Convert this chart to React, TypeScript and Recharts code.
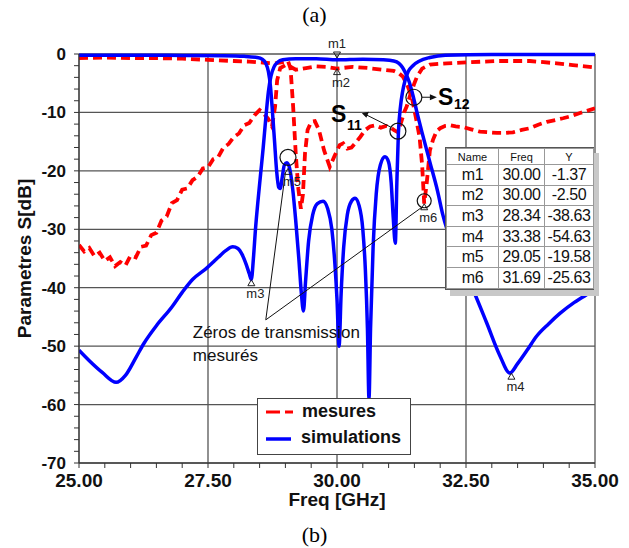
import React from 'react';
import { LineChart, Line, XAxis, YAxis, CartesianGrid, ReferenceDot, ReferenceLine, Legend } from 'recharts';

type Pt = { f: number; db: number };
const pts = (rows: number[][]): Pt[] => rows.map(([f, db]) => ({ f, db }));

// simulated S11 (blue, near 0 out of band)
const simS11 = pts([
  [25, -0.2], [26, -0.2], [27, -0.25], [27.8, -0.3], [28.2, -0.4], [28.45, -0.6], [28.55, -0.9],
  [28.62, -1.6], [28.67, -3], [28.71, -5.5], [28.75, -10], [28.79, -15], [28.83, -20], [28.87, -22.8],
  [28.9, -23], [28.94, -21], [28.98, -19], [29.03, -18.6], [29.08, -19.5], [29.14, -23], [29.2, -28.5],
  [29.26, -35], [29.31, -41], [29.35, -44], [29.39, -39], [29.45, -32], [29.53, -27.5], [29.62, -25.6],
  [29.73, -25.2], [29.82, -26.5], [29.9, -30], [29.96, -36], [30.0, -42], [30.04, -50], [30.08, -41],
  [30.13, -33], [30.2, -27.5], [30.28, -25.2], [30.35, -24.7], [30.43, -26], [30.5, -30], [30.55, -37],
  [30.59, -47], [30.62, -59], [30.65, -47], [30.7, -33], [30.76, -24], [30.84, -19], [30.93, -17.6],
  [31.0, -18.5], [31.05, -22], [31.09, -28], [31.13, -32.4], [31.16, -22], [31.19, -13.5], [31.23, -9],
  [31.27, -6.5], [31.32, -4.5], [31.38, -3], [31.47, -2], [31.6, -1.2], [31.8, -0.6], [32.1, -0.2],
  [33, -0.1], [34, -0.1], [35, -0.1],
]);

// simulated S21 (blue, passband)
const simS21 = pts([
  [25, -50.7], [25.2, -52.5], [25.45, -54.5], [25.72, -56.2], [25.9, -55], [26.1, -52], [26.26, -49.5],
  [26.5, -46.5], [26.8, -43.3], [27.0, -40.8], [27.2, -38.6], [27.48, -36.6], [27.7, -34.8], [27.85, -33.6],
  [27.98, -33], [28.08, -33.3], [28.16, -34.3], [28.24, -36], [28.3, -37.6], [28.34, -38.6], [28.38, -35],
  [28.42, -30], [28.47, -25], [28.52, -20.5], [28.57, -16], [28.62, -11], [28.67, -6.5], [28.72, -3.8],
  [28.78, -2.2], [28.85, -1.4], [28.95, -1.0], [29.2, -0.8], [29.6, -0.8], [30, -1.0], [30.5, -0.9],
  [30.9, -1.0], [31.1, -1.2], [31.2, -1.6], [31.27, -2.3], [31.33, -3.3], [31.4, -4.8], [31.47, -7],
  [31.55, -10], [31.65, -13.5], [31.8, -18.5], [31.95, -23.5], [32.05, -27.5], [32.3, -34], [32.62, -40],
  [32.9, -46], [33.15, -51.5], [33.35, -54.6], [33.5, -53], [33.7, -50.5], [33.86, -48.4], [34.1, -46.2],
  [34.32, -44.4], [34.6, -42.5], [34.8, -41.4], [35, -40.4],
]);

// measured S11 (red dashed, upper trace)
const measS11 = pts([
  [25, -0.7], [25.5, -0.6], [26, -0.7], [26.5, -0.7], [27, -0.8], [27.5, -1.0], [28, -1.2], [28.3, -1.3],
  [28.6, -1.5], [28.8, -1.6], [28.95, -1.4], [29.05, -1.2], [29.1, -2.5], [29.15, -9], [29.2, -17],
  [29.25, -23], [29.3, -26.5], [29.34, -24], [29.38, -17], [29.43, -13], [29.5, -11.6], [29.57, -11.5],
  [29.65, -13], [29.75, -16.5], [29.86, -19.3], [29.95, -17.5], [30.05, -15.6], [30.12, -15.3],
  [30.2, -16.2], [30.28, -16], [30.35, -15.3], [30.45, -14.2], [30.55, -13], [30.64, -12.4], [30.75, -12.2],
  [30.85, -12.6], [30.95, -12.3], [31.03, -12.5], [31.1, -13], [31.18, -13.4], [31.25, -11.5], [31.3, -10],
  [31.35, -9], [31.42, -7], [31.5, -5], [31.55, -3.9], [31.65, -2.5], [31.8, -1.8], [32.13, -1.6],
  [32.58, -1.4], [33.1, -1.2], [33.74, -1.2], [34.26, -1.6], [34.57, -1.9], [34.8, -2.1], [35, -2.3],
]);

// measured S21 (red dashed, lower trace)
const measS21 = pts([
  [25, -32.7], [25.1, -33.8], [25.2, -33.2], [25.3, -34.6], [25.4, -34], [25.5, -35.4], [25.6, -34.8],
  [25.7, -36.3], [25.8, -35.6], [25.9, -36.2], [26.0, -34.5], [26.1, -34.8], [26.2, -33], [26.3, -32.8],
  [26.4, -31], [26.5, -30.6], [26.6, -28.5], [26.7, -27.8], [26.8, -25.5], [26.9, -25], [27.0, -23.2],
  [27.1, -23], [27.2, -21.6], [27.3, -21], [27.4, -19.6], [27.5, -19.4], [27.6, -18], [27.7, -17.6],
  [27.8, -16], [27.9, -15.4], [28.0, -14.2], [28.1, -13.6], [28.2, -12.2], [28.3, -11.8], [28.4, -10.5],
  [28.5, -9.6], [28.58, -10.2], [28.66, -11], [28.74, -12.4], [28.8, -9], [28.84, -4.5], [28.9, -2.4],
  [29.0, -1.9], [29.1, -2.2], [29.2, -2.7], [29.4, -2.4], [29.6, -2.1], [29.8, -2.2], [30.0, -2.5],
  [30.3, -2.2], [30.6, -2.4], [30.9, -2.7], [31.1, -2.9], [31.2, -3.3], [31.28, -3.9], [31.37, -5.5],
  [31.45, -7.4], [31.52, -10.5], [31.6, -14.2], [31.65, -19], [31.69, -25.6], [31.74, -22], [31.8, -16.5],
  [31.86, -14.7], [31.93, -13.2], [32.0, -12.7], [32.1, -12.3], [32.19, -12.2], [32.3, -12.4],
  [32.44, -12.5], [32.6, -12.9], [32.77, -13.3], [32.93, -13.4], [33.1, -13.5], [33.25, -13.5],
  [33.41, -13.4], [33.58, -13], [33.74, -12.7], [33.9, -12.1], [34.07, -11.6], [34.23, -11.3],
  [34.38, -11], [34.55, -10.6], [34.71, -10.1], [34.86, -9.7], [35, -9.3],
]);

const markers = [
  { name: 'm1', freq: 30.0, y: -1.37 },
  { name: 'm2', freq: 30.0, y: -2.5 },
  { name: 'm3', freq: 28.34, y: -38.63 },
  { name: 'm4', freq: 33.38, y: -54.63 },
  { name: 'm5', freq: 29.05, y: -19.58 },
  { name: 'm6', freq: 31.69, y: -25.63 },
];

const xMajor = [25, 27.5, 30, 32.5, 35];
const xTicks = [25, 25.5, 26, 26.5, 27, 27.5, 28, 28.5, 29, 29.5, 30, 30.5, 31, 31.5, 32, 32.5, 33, 33.5, 34, 34.5, 35];
const yMajor = [0, -10, -20, -30, -40, -50, -60, -70];
const yTicks = [
  0, -2, -4, -6, -8, -10, -12, -14, -16, -18, -20, -22, -24, -26, -28, -30, -32, -34, -36, -38,
  -40, -42, -44, -46, -48, -50, -52, -54, -56, -58, -60, -62, -64, -66, -68, -70,
];

// annotation anchors (freq, dB)
const s11Point = { f: 31.18, db: -13.2 };
const s12Point = { f: 31.49, db: -7.4 };
const zerosFrom = { f: 28.62, db: -45.5 };
const zerosTo = [{ f: 29.0, db: -20.3 }, { f: 31.65, db: -26.2 }];

const FONT = '"Liberation Sans", Arial, Helvetica, sans-serif';
const RED = '#ff0000';
const BLUE = '#0000ff';

const XTick = ({ x, y, payload }: any) =>
  xMajor.includes(payload.value) ? (
    <text x={x} y={y} dy={14} textAnchor="middle" fontSize={19} fontWeight="bold" fill="#111" fontFamily={FONT}>
      {payload.value.toFixed(2)}
    </text>
  ) : <g />;

const YTick = ({ x, y, payload }: any) =>
  yMajor.includes(payload.value) ? (
    <text x={x} y={y} dy={6} textAnchor="end" fontSize={17} fontWeight="bold" fill="#111" fontFamily={FONT}>
      {payload.value}
    </text>
  ) : <g />;

const markerShape = (name: string) => (p: any) => {
  const { cx, cy } = p;
  if (name === 'm1') {
    return (
      <g>
        <polygon points={`${cx - 3.5},${cy - 10} ${cx + 3.5},${cy - 10} ${cx},${cy - 4}`} fill="none" stroke="#222" strokeWidth={1} />
        <text x={cx} y={cy - 14} textAnchor="middle" fontSize={13} fill="#222" fontFamily={FONT}>{name}</text>
      </g>
    );
  }
  return (
    <g>
      <polygon points={`${cx},${cy} ${cx - 3.5},${cy + 6} ${cx + 3.5},${cy + 6}`} fill="none" stroke="#222" strokeWidth={1} />
      <text x={cx + 4} y={cy + 18} textAnchor="middle" fontSize={13} fill="#222" fontFamily={FONT}>{name}</text>
    </g>
  );
};

const ringShape = (r: number, dy: number) => (p: any) => (
  <circle cx={p.cx} cy={p.cy + dy} r={r} fill="none" stroke="#111" strokeWidth={1.2} />
);

const s11Shape = (p: any) => {
  const { cx, cy } = p;
  return (
    <g fontFamily={FONT} fill="#000">
      <circle cx={cx} cy={cy} r={8} fill="none" stroke="#111" strokeWidth={1.2} />
      <line x1={cx - 7} y1={cy - 4} x2={cx - 31} y2={cy - 16} stroke="#111" strokeWidth={1} />
      <polygon points={`${cx - 36},${cy - 18} ${cx - 29},${cy - 19.5} ${cx - 31.5},${cy - 13.5}`} fill="#111" />
      <text x={cx - 67} y={cy - 9} fontSize={23} fontWeight="bold">S</text>
      <text x={cx - 51} y={cy - 1} fontSize={14} fontWeight="bold">11</text>
    </g>
  );
};

const s12Shape = (p: any) => {
  const { cx, cy } = p;
  return (
    <g fontFamily={FONT} fill="#000">
      <circle cx={cx} cy={cy} r={8} fill="none" stroke="#111" strokeWidth={1.2} />
      <line x1={cx + 8} y1={cy} x2={cx + 17} y2={cy} stroke="#111" strokeWidth={1} />
      <polygon points={`${cx + 23},${cy} ${cx + 16},${cy - 3} ${cx + 16},${cy + 3}`} fill="#111" />
      <text x={cx + 24} y={cy + 8} fontSize={23} fontWeight="bold">S</text>
      <text x={cx + 40} y={cy + 12} fontSize={14} fontWeight="bold">12</text>
    </g>
  );
};

const zerosText = (p: any) => {
  const { cx, cy } = p;
  return (
    <g fontFamily={FONT} fontSize={17} fill="#111">
      <text x={cx - 73} y={cy + 18}>Zéros de transmission</text>
      <text x={cx - 73} y={cy + 41}>mesurés</text>
    </g>
  );
};

const LegendBox = () => (
  <div style={{ width: 154, height: 57, boxSizing: 'border-box', border: '1px solid #444', background: '#fff' }}>
    <svg width={152} height={55} style={{ display: 'block' }}>
      <line x1={8} x2={35} y1={13} y2={13} stroke={RED} strokeWidth={3} strokeDasharray="14 5" />
      <text x={44} y={18} fontSize={18} fontWeight="bold" fontFamily={FONT} fill="#111">mesures</text>
      <line x1={8} x2={33} y1={40} y2={40} stroke={BLUE} strokeWidth={3.5} />
      <text x={43} y={44} fontSize={18} fontWeight="bold" fontFamily={FONT} fill="#111">simulations</text>
    </svg>
  </div>
);

const cell: React.CSSProperties = { border: '1px solid #999', textAlign: 'center', padding: 0 };

const MarkerTable = () => (
  <div style={{
    position: 'absolute', left: 445, top: 147, width: 147, background: '#fff',
    border: '1px solid #555', boxShadow: '5px 6px 0 #c8c8c8', fontFamily: FONT, color: '#111',
  }}>
    <table style={{ borderCollapse: 'collapse', width: '100%', tableLayout: 'fixed' }}>
      <colgroup>
        <col style={{ width: 52 }} />
        <col style={{ width: 46 }} />
        <col style={{ width: 49 }} />
      </colgroup>
      <thead>
        <tr style={{ height: 16, fontSize: 11 }}>
          <th style={{ ...cell, fontWeight: 'normal' }}>Name</th>
          <th style={{ ...cell, fontWeight: 'normal' }}>Freq</th>
          <th style={{ ...cell, fontWeight: 'normal' }}>Y</th>
        </tr>
      </thead>
      <tbody>
        {markers.map((m) => (
          <tr key={m.name} style={{ height: 20.6, fontSize: 16, letterSpacing: -0.4 }}>
            <td style={cell}>{m.name}</td>
            <td style={cell}>{m.freq.toFixed(2)}</td>
            <td style={cell}>{m.y.toFixed(2)}</td>
          </tr>
        ))}
      </tbody>
    </table>
  </div>
);

export default function App() {
  return (
    <div style={{ position: 'relative', width: 629, height: 548, background: '#fff' }}>
      <style>{'body{margin:0}'}</style>
      <div style={{ position: 'absolute', left: 0, top: 2, width: 629, textAlign: 'center', fontFamily: '"Liberation Serif", "Times New Roman", serif', fontSize: 22 }}>(a)</div>
      <LineChart
        width={629}
        height={548}
        margin={{ top: 54, right: 34, bottom: 55, left: 0 }}
        style={{ fontFamily: FONT }}
      >
        <CartesianGrid horizontalValues={yMajor} verticalValues={xMajor} stroke="#555" strokeWidth={1.3} />
        <XAxis
          dataKey="f"
          type="number"
          domain={[25, 35]}
          ticks={xTicks}
          interval={0}
          tick={<XTick />}
          tickSize={5}
          tickMargin={5}
          height={30}
          stroke="#333"
          allowDataOverflow
          label={{ value: 'Freq [GHz]', position: 'bottom', offset: 0, fontSize: 19, fontWeight: 'bold', fill: '#111' }}
        />
        <YAxis
          type="number"
          domain={[-70, 0]}
          ticks={yTicks}
          interval={0}
          tick={<YTick />}
          tickSize={5}
          tickMargin={8}
          width={79}
          stroke="#333"
          label={{ value: 'Parametres S[dB]', angle: -90, position: 'insideLeft', offset: 24, fontSize: 19, fontWeight: 'bold', fill: '#111', style: { textAnchor: 'middle' } }}
        />
        <Legend
          layout="vertical"
          align="center"
          verticalAlign="middle"
          content={<LegendBox />}
          wrapperStyle={{ position: 'absolute', left: 257, top: 398, width: 154, height: 57 }}
        />
        <Line data={measS21} dataKey="db" name="mesures" type="linear" stroke={RED} strokeWidth={3.8} strokeDasharray="9 5" dot={false} activeDot={false} isAnimationActive={false} />
        <Line data={measS11} dataKey="db" name="mesures S11" type="linear" stroke={RED} strokeWidth={3.8} strokeDasharray="9 5" dot={false} activeDot={false} isAnimationActive={false} legendType="none" />
        <Line data={simS21} dataKey="db" name="simulations" type="monotone" stroke={BLUE} strokeWidth={3.5} dot={false} activeDot={false} isAnimationActive={false} />
        <Line data={simS11} dataKey="db" name="simulations S11" type="monotone" stroke={BLUE} strokeWidth={3.5} dot={false} activeDot={false} isAnimationActive={false} legendType="none" />
        {zerosTo.map((t, i) => (
          <ReferenceLine key={i} segment={[{ x: zerosFrom.f, y: zerosFrom.db }, { x: t.f, y: t.db }]} stroke="#111" strokeWidth={1} />
        ))}
        <ReferenceDot x={zerosFrom.f} y={zerosFrom.db} shape={zerosText} />
        {markers.map((m) => (
          <ReferenceDot key={m.name} x={m.freq} y={m.y} shape={markerShape(m.name)} />
        ))}
        <ReferenceDot x={29.05} y={-19.58} shape={ringShape(8, -11)} />
        <ReferenceDot x={31.69} y={-25.63} shape={ringShape(7, -3)} />
        <ReferenceDot x={s11Point.f} y={s11Point.db} shape={s11Shape} />
        <ReferenceDot x={s12Point.f} y={s12Point.db} shape={s12Shape} />
      </LineChart>
      <MarkerTable />
      <div style={{ position: 'absolute', left: 0, top: 522, width: 629, textAlign: 'center', fontFamily: '"Liberation Serif", "Times New Roman", serif', fontSize: 22 }}>(b)</div>
    </div>
  );
}
